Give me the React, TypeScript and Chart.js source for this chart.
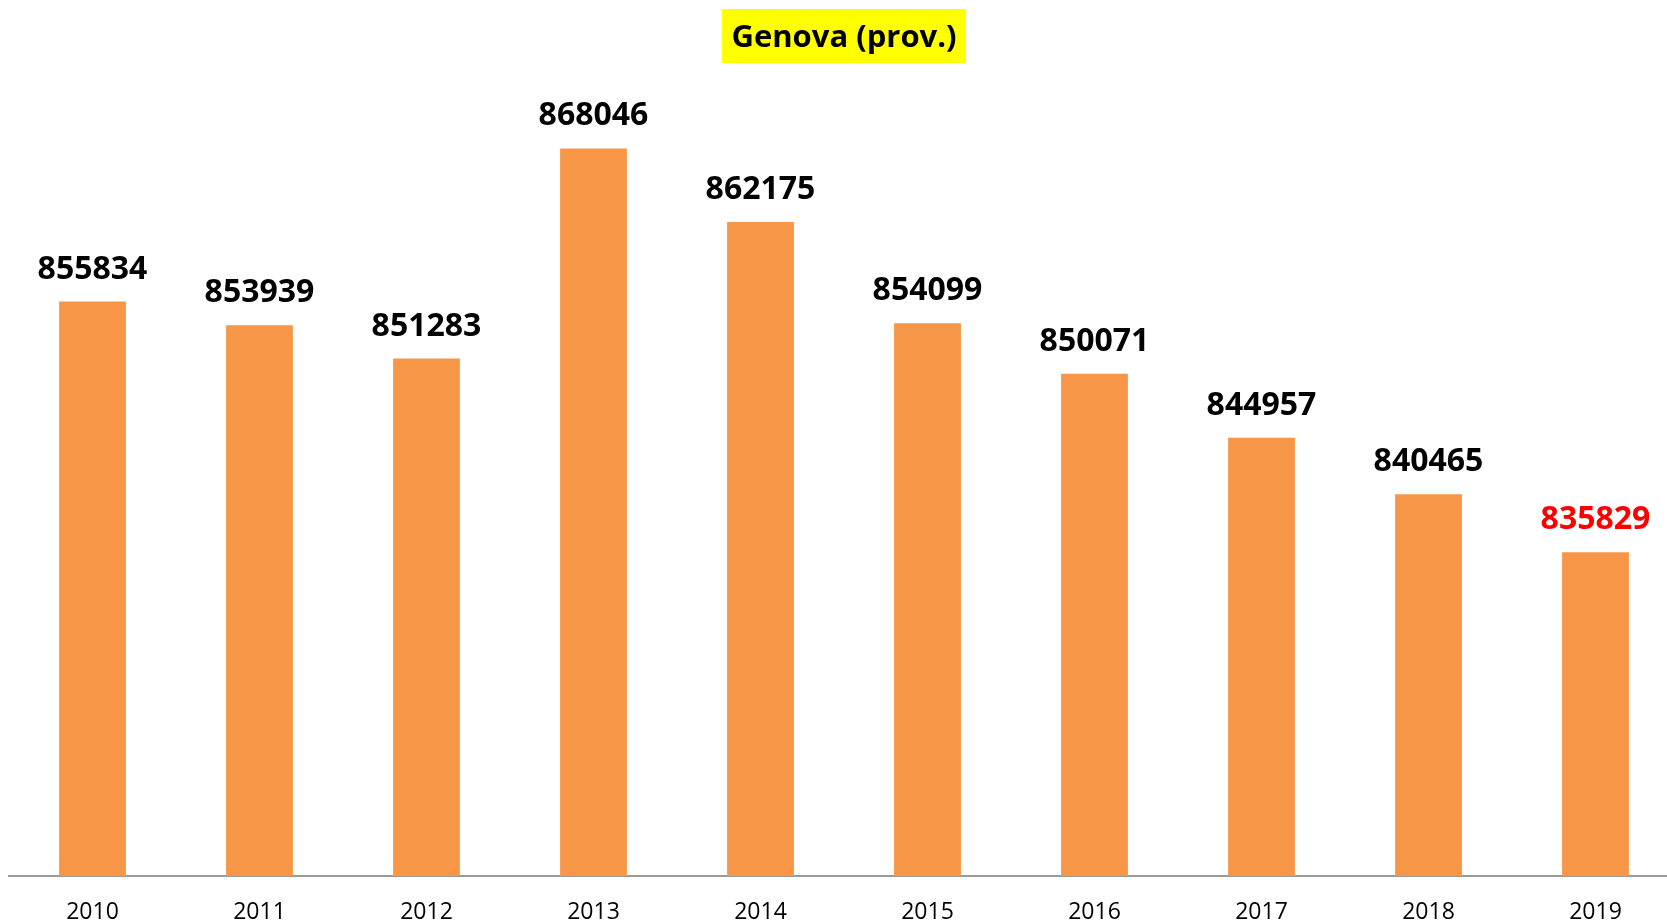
import React, { useEffect, useRef } from "react";
import { Chart, registerables } from "chart.js";

Chart.register(...registerables);

const years = ["2010", "2011", "2012", "2013", "2014", "2015", "2016", "2017", "2018", "2019"];
const population = [855834, 853939, 851283, 868046, 862175, 854099, 850071, 844957, 840465, 835829];
const labelColors = ["#000000", "#000000", "#000000", "#000000", "#000000", "#000000", "#000000", "#000000", "#000000", "#FF0000"];
const titleText = "Genova (prov.)";

const W = 1690;
const H = 923;

const overlayPlugin = {
  id: "overlay",
  afterDatasetsDraw(chart: any) {
    const ctx = chart.ctx;
    const meta = chart.getDatasetMeta(0);
    ctx.save();
    ctx.font = "bold 32px 'Open Sans'";
    ctx.textAlign = "center";
    ctx.textBaseline = "alphabetic";
    meta.data.forEach((bar: any, i: number) => {
      ctx.fillStyle = labelColors[i];
      ctx.fillText(String(population[i]), bar.x, bar.y - 23);
    });
    // title box
    ctx.fillStyle = "#FFFF00";
    ctx.fillRect(722, 9, 244, 54);
    ctx.fillStyle = "#000000";
    ctx.font = "bold 31px 'Open Sans'";
    ctx.fillText(titleText, 844, 47);
    ctx.restore();
  },
};

export default function App() {
  const ref = useRef<HTMLCanvasElement | null>(null);
  useEffect(() => {
    if (!ref.current) return;
    const chart = new Chart(ref.current, {
      type: "bar",
      data: {
        labels: years,
        datasets: [
          {
            data: population,
            backgroundColor: "#F79646",
            barPercentage: 0.4,
            categoryPercentage: 1,
          },
        ],
      },
      options: {
        responsive: false,
        animation: false,
        devicePixelRatio: 1,
        layout: { padding: { top: 124, left: 9, right: 11, bottom: 0 } },
        plugins: { legend: { display: false }, tooltip: { enabled: false }, title: { display: false } },
        scales: {
          x: {
            offset: true,
            grid: { display: false, drawTicks: false },
            border: { display: true, color: "#9A9A9A", width: 2 },
            ticks: { color: "#000000", font: { family: "'Open Sans'", size: 23 }, padding: 23 },
            afterFit: (s: any) => {
              s.height = 47;
            },
          },
          y: { display: false, min: 810000, max: 870000 },
        },
      },
      plugins: [overlayPlugin],
    });
    return () => chart.destroy();
  }, []);
  return (
    <div style={{ position: "fixed", left: 0, top: 0, width: 1667, height: 923, overflow: "hidden", background: "#fff" }}>
      <canvas ref={ref} width={W} height={H} style={{ position: "absolute", left: 0, top: 0, width: W, height: H }} />
    </div>
  );
}
